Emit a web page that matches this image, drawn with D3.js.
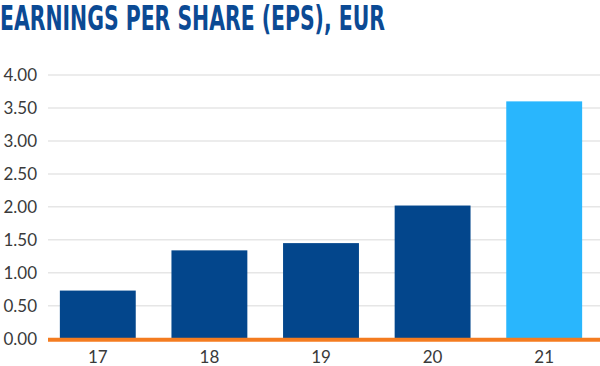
<!DOCTYPE html>
<html><head><meta charset="utf-8">
<script src="https://cdn.jsdelivr.net/npm/d3@7"></script>
<style>body{margin:0;background:#fff}svg{display:block}</style>
</head><body>
<svg id="c" width="600" height="366"></svg>
<script>
const categories = ["17","18","19","20","21"];
const values = [0.73, 1.34, 1.45, 2.02, 3.60];
const yTicks = [0,0.5,1,1.5,2,2.5,3,3.5,4];
const title = "EARNINGS PER SHARE (EPS), EUR";

const svg = d3.select("#c");
const x = d3.scaleBand().domain(categories).range([42,600]).paddingInner(0.32).paddingOuter(0.16);
const y = d3.scaleLinear().domain([0,4]).range([338.7,75]);

svg.append("text").attr("x",0).attr("y",30)
  .attr("font-family","'Liberation Sans Narrow','DejaVu Sans Condensed',sans-serif")
  .attr("font-weight","bold").attr("font-size",33).attr("fill","#0b4a94")
  .attr("textLength",385).attr("lengthAdjust","spacingAndGlyphs")
  .text(title);

const gy = svg.append("g");
gy.selectAll("line").data(yTicks).join("line")
  .attr("x1",48).attr("x2",600).attr("y1",d=>y(d)).attr("y2",d=>y(d))
  .attr("stroke","#e6e6e6").attr("stroke-width",1.5);
gy.selectAll("text").data(yTicks).join("text")
  .attr("x",37).attr("y",d=>y(d)).attr("dy","0.35em").attr("text-anchor","end")
  .attr("font-family","Lato, 'Noto Sans', sans-serif").attr("font-size",17).attr("fill","#3a3a3a")
  .text(d=>d3.format(".2f")(d));

svg.selectAll("rect.bar").data(values).join("rect").attr("class","bar")
  .attr("x",(d,i)=>x(categories[i])).attr("width",x.bandwidth())
  .attr("y",d=>y(d)).attr("height",d=>y(0)-y(d))
  .attr("fill",(d,i)=>i===values.length-1?"#29b6fd":"#03468c");

svg.append("line").attr("x1",48).attr("x2",600).attr("y1",y(0)+1).attr("y2",y(0)+1)
  .attr("stroke","#f47c20").attr("stroke-width",4);

svg.selectAll("text.xl").data(categories).join("text").attr("class","xl")
  .attr("x",d=>x(d)+x.bandwidth()/2).attr("y",363).attr("text-anchor","middle")
  .attr("font-family","Lato, 'Noto Sans', sans-serif").attr("font-size",17).attr("fill","#3a3a3a")
  .text(d=>d);
</script>
</body></html>
